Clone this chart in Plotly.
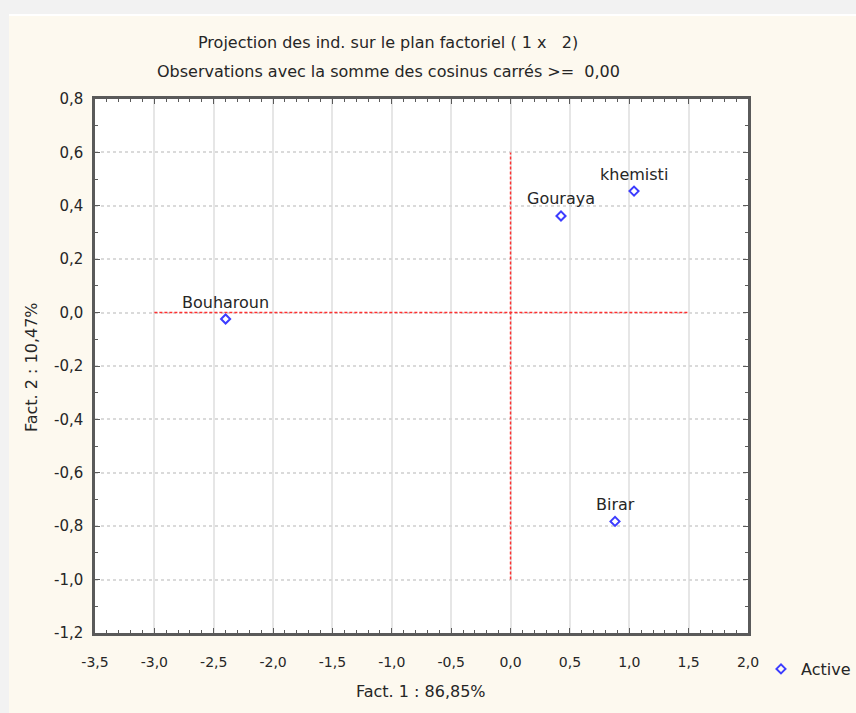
import plotly.graph_objects as go

# Data
names = ["Bouharoun", "Gouraya", "khemisti", "Birar"]
fact1 = [-2.40, 0.425, 1.04, 0.88]
fact2 = [-0.024, 0.362, 0.455, -0.782]

hline_x = [-3.0, 1.5]
hline_y = [0.0, 0.0]
vline_x = [0.0, 0.0]
vline_y = [-1.0, 0.6]

x_ticks = [-3.5, -3.0, -2.5, -2.0, -1.5, -1.0, -0.5, 0.0, 0.5, 1.0, 1.5, 2.0]
x_ticklabels = ["-3,5", "-3,0", "-2,5", "-2,0", "-1,5", "-1,0", "-0,5", "0,0", "0,5", "1,0", "1,5", "2,0"]
y_ticks = [-1.2, -1.0, -0.8, -0.6, -0.4, -0.2, 0.0, 0.2, 0.4, 0.6, 0.8]
y_ticklabels = ["-1,2", "-1,0", "-0,8", "-0,6", "-0,4", "-0,2", "0,0", "0,2", "0,4", "0,6", "0,8"]

title1 = "Projection des ind. sur le plan factoriel ( 1 x   2)"
title2 = "Observations avec la somme des cosinus carrés >=  0,00"
xtitle = "Fact. 1 : 86,85%"
ytitle = "Fact. 2 : 10,47%"
series_name = "Active"

FONT = "DejaVu Sans, Verdana, sans-serif"
FS = 16
TXT = "#262626"
BLUE = "#3c3cff"
RED = "#ff3030"
FRAME = "#5a5a5a"

W, H = 856, 713
L, R, T, B = 95, 108, 99, 80
pw, ph = W - L - R, H - T - B

def px(x):
    return (x - L) / pw

def py(y):
    return (H - B - y) / ph

fig = go.Figure()

fig.add_trace(go.Scatter(x=hline_x, y=hline_y, mode="lines",
                         line=dict(color=RED, width=1.5, dash="3px,2px"),
                         showlegend=False, hoverinfo="skip"))
fig.add_trace(go.Scatter(x=vline_x, y=vline_y, mode="lines",
                         line=dict(color=RED, width=1.5, dash="3px,2px"),
                         showlegend=False, hoverinfo="skip"))

fig.add_trace(go.Scatter(
    x=fact1, y=fact2, mode="markers",
    marker=dict(symbol="diamond-open", size=7, color=BLUE, line=dict(width=2, color=BLUE)),
    name=series_name, showlegend=True,
))

axis_common = dict(
    showline=True, linecolor=FRAME, linewidth=2.5, mirror="ticks",
    ticks="inside", ticklen=5, tickwidth=1, tickcolor=FRAME,
    zeroline=False, showgrid=True, automargin=False,
)

fig.update_xaxes(**axis_common, range=[-3.5, 2.0], tickvals=x_ticks, ticktext=x_ticklabels,
                 tickfont=dict(family=FONT, size=14, color=TXT),
                 gridcolor="#e6e6e6", gridwidth=1.5,
                 ticklabelstandoff=14,
                 minor=dict(dtick=0.1, tick0=0, ticks="inside", ticklen=3, tickcolor=FRAME, showgrid=False))
fig.update_yaxes(**axis_common, range=[-1.2, 0.8], tickvals=y_ticks, ticktext=y_ticklabels,
                 tickfont=dict(family=FONT, size=15, color=TXT),
                 gridcolor="#dadada", gridwidth=1.5, griddash="dot",
                 ticklabelstandoff=6,
                 minor=dict(dtick=0.1, tick0=0, ticks="inside", ticklen=3, tickcolor=FRAME, showgrid=False))

shapes = [
    dict(type="rect", xref="paper", yref="paper", x0=px(0), x1=px(W), y0=py(0), y1=py(14),
         fillcolor="#f2f2f2", line=dict(width=0), layer="below"),
    dict(type="rect", xref="paper", yref="paper", x0=px(0), x1=px(9), y0=py(0), y1=py(H),
         fillcolor="#f2f2f2", line=dict(width=0), layer="below"),
    dict(type="line", xref="paper", yref="paper", x0=px(9), x1=px(W), y0=py(15), y1=py(15),
         line=dict(color="#ffffff", width=2), layer="below"),
]

annotations = [
    dict(text=title1, x=px(388), y=py(42), xref="paper", yref="paper", showarrow=False,
         xanchor="center", yanchor="middle", font=dict(family=FONT, size=FS, color=TXT)),
    dict(text=title2, x=px(388), y=py(71), xref="paper", yref="paper", showarrow=False,
         xanchor="center", yanchor="middle", font=dict(family=FONT, size=FS, color=TXT)),
    dict(text=xtitle, x=px(421), y=py(691), xref="paper", yref="paper", showarrow=False,
         xanchor="center", yanchor="middle", font=dict(family=FONT, size=FS, color=TXT)),
    dict(text=ytitle, x=px(31), y=py(367), xref="paper", yref="paper", showarrow=False,
         textangle=-90, xanchor="center", yanchor="middle", font=dict(family=FONT, size=FS, color=TXT)),
]
for n, xv, yv in zip(names, fact1, fact2):
    annotations.append(dict(text=n, x=xv, y=yv, xref="x", yref="y", showarrow=False,
                            xanchor="center", yanchor="middle", yshift=17,
                            font=dict(family=FONT, size=FS, color=TXT)))

fig.update_layout(
    width=W, height=H,
    margin=dict(l=L, r=R, t=T, b=B, autoexpand=False),
    paper_bgcolor="#fdf9ef", plot_bgcolor="#ffffff",
    shapes=shapes, annotations=annotations,
    legend=dict(xref="container", yref="container", x=761 / W, y=1 - 669 / H,
                xanchor="left", yanchor="middle",
                bgcolor="rgba(0,0,0,0)", font=dict(family=FONT, size=FS, color=TXT),
                itemwidth=30),
    font=dict(family=FONT, size=FS, color=TXT),
)

fig.write_html("out.html", config={"displayModeBar": False},
               post_script="document.body.style.margin='0';document.body.style.background='#f2f2f2';")
